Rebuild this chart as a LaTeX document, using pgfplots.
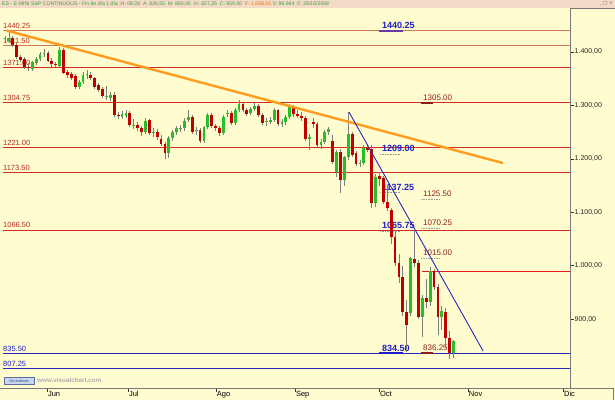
\documentclass[border=0pt]{standalone}
\usepackage{fontspec}
\setmainfont{Liberation Sans}
\newfontfamily\dejavu{DejaVu Sans}
\usepackage{pgfplots}
\usepackage{pgfplotstable}
\pgfplotsset{compat=1.18}
\definecolor{chartbg}{RGB}{255,253,208}
\definecolor{headerpink}{RGB}{242,218,198}
\definecolor{hgreen}{RGB}{60,160,60}
\definecolor{horange}{RGB}{235,110,20}
\definecolor{lvlA}{RGB}{210,120,95}
\definecolor{lvl}{RGB}{208,45,40}
\definecolor{lvltxt}{RGB}{180,42,36}
\definecolor{rtxt}{RGB}{140,30,30}
\definecolor{btxt}{RGB}{30,30,200}
\definecolor{bline}{RGB}{40,40,190}
\definecolor{orangeline}{RGB}{255,155,30}
\definecolor{cgreen}{RGB}{40,190,40}
\definecolor{cred}{RGB}{190,0,0}
\definecolor{wick}{RGB}{125,125,125}
\definecolor{framegray}{RGB}{120,120,120}
\definecolor{purp}{RGB}{100,60,170}
\definecolor{brightred}{RGB}{235,25,25}

\pgfplotstableread{
x o h l c
0 1424 1430 1419 1426
1 1420 1440.25 1416 1427
7 1368 1384 1365 1381
8 1380 1390 1376 1386
9 1386 1400 1383 1397
10 1396 1405 1390 1398
14 1373 1409 1370 1404
19 1335 1348 1330 1343
20 1343 1362 1340 1357
21 1356 1366 1350 1358
26 1316 1337 1310 1318
27 1314 1326 1309 1320
30 1279 1290 1275 1283
31 1281 1292 1277 1286
33 1262 1275 1255 1264
36 1250 1276 1246 1271
38 1249 1258 1240 1251
42 1211 1242 1202 1239
43 1239 1254 1234 1250
44 1250 1262 1245 1257
45 1256 1264 1250 1258
46 1257 1276 1253 1271
47 1273 1292 1268 1278
49 1252 1260 1244 1254
51 1233 1262 1230 1259
52 1259 1286 1255 1282
56 1248 1282 1245 1278
57 1283 1292 1278 1286
59 1267 1295 1264 1291
60 1291 1311 1288 1302
63 1285 1297 1282 1293
64 1293 1304 1290 1299
67 1268 1276 1262 1270
68 1269 1278 1265 1273
69 1272 1295 1268 1291
71 1266 1274 1260 1268
72 1268 1282 1264 1278
73 1278 1303 1275 1297
78 1237 1246 1216 1241
81 1226 1238 1218 1232
82 1232 1254 1228 1250
83 1250 1260 1244 1256
85 1175 1216 1165 1213
87 1160 1206 1150 1203
88 1203 1288 1198 1246
91 1190 1198 1184 1192
92 1192 1226 1188 1220
95 1117 1172 1110 1166
104 911 1016 905 1014
107 904 945 866 939
109 932 998 925 990
112 904 925 880 915
115 836.5 860 827.25 859.5
}\up

\pgfplotstableread{
x o h l c
2 1426 1430 1410 1413
3 1413 1416 1387 1390
4 1390 1395 1381 1385
5 1387 1390 1368 1372
6 1372 1380 1364 1370
11 1398 1401 1381 1384
12 1384 1388 1372 1377
13 1378 1382 1371 1376
15 1404 1407 1358 1361
16 1362 1366 1352 1357
17 1358 1362 1348 1352
18 1355 1358 1331 1335
22 1357 1362 1347 1351
23 1351 1354 1331 1335
24 1338 1342 1325 1329
25 1330 1335 1314 1318
28 1320 1325 1278 1282
29 1282 1288 1274 1280
32 1286 1290 1259 1263
34 1263 1268 1252 1257
35 1257 1262 1243 1250
37 1272 1275 1244 1248
39 1250 1255 1236 1241
40 1238 1244 1224 1228
41 1228 1232 1200 1211
48 1278 1282 1246 1250
50 1254 1258 1229 1233
53 1282 1286 1257 1261
54 1261 1266 1252 1257
55 1258 1262 1243 1248
58 1286 1290 1263 1267
61 1302 1306 1287 1291
62 1291 1295 1280 1284
65 1299 1302 1278 1282
66 1282 1286 1263 1267
70 1291 1294 1261 1265
74 1295 1300 1279 1283
75 1283 1292 1276 1281
76 1280 1288 1270 1277
77 1276 1280 1233 1237
79 1268 1276 1258 1265
80 1265 1268 1222 1226
84 1233 1245 1190 1194
86 1213 1218 1136 1160
89 1246 1250 1203 1207
90 1211 1214 1186 1190
93 1220 1228 1212 1217
94 1218 1225 1108 1117
96 1168 1176 1150 1162
97 1164 1168 1116 1120
98 1120 1150 1102 1108
99 1104 1108 1040 1054
100 1053 1062 1000 1005
101 1005 1022 968 979
102 979 1000 905 913
103 913 935 838 889
105 1012 1066 998 1005
106 1005 1010 900 904
108 939 975 920 932
110 990 994 955 960
111 960 966 870 904
113 913 920 845 864
114 864 878 825 836
}\down

\begin{document}
\begin{tikzpicture}
\useasboundingbox (0pt,0pt) rectangle (615pt,400pt);
\fill[chartbg] (0pt,0pt) rectangle (615pt,400pt);
\begin{axis}[
  at={(0pt,12pt)}, anchor=south west,
  scale only axis, width=570pt, height=380pt,
  xmin=-1.282, xmax=144.87, ymin=770.8, ymax=1482.4,
  axis x line=bottom, axis y line=right,
  axis line style={draw=framegray, line width=0.8pt, -},
  xtick={10.77,31.54,54.1,74.36,95.9,118.7,143.1},
  xticklabels={Jun,Jul,Ago,Sep,Oct,Nov,Dic},
  ytick={900,1000,1100,1200,1300,1400},
  yticklabels={{900,00},{1.000,00},{1.100,00},{1.200,00},{1.300,00},{1.400,00}},
  tick align=outside, major tick length=4pt,
  tick style={draw=black!80, line width=0.5pt},
  xticklabel style={anchor=north west, inner sep=0pt, xshift=0.8pt, yshift=1pt, font=\fontsize{7.5}{8}\selectfont},
  yticklabel style={anchor=west, inner sep=0pt, xshift=0.5pt, font=\fontsize{7}{8}\selectfont, text=black!85},
]
% level lines
\addplot[lvlA, line width=1pt, forget plot] coordinates {(-0.51,1440.25) (144.87,1440.25)};
\addplot[lvlA, line width=1pt, forget plot] coordinates {(-0.51,1411.5) (144.87,1411.5)};
\addplot[lvl, line width=1pt, forget plot] coordinates {(-0.51,1371) (144.87,1371)};
\addplot[lvl, line width=1pt, forget plot] coordinates {(-0.51,1304.75) (144.87,1304.75)};
\addplot[lvl, line width=1pt, forget plot] coordinates {(-0.51,1221) (144.87,1221)};
\addplot[lvl, line width=1pt, forget plot] coordinates {(-0.51,1173.5) (144.87,1173.5)};
\addplot[lvl, line width=1pt, forget plot] coordinates {(-0.51,1066.5) (144.87,1066.5)};
\addplot[brightred, line width=1pt, forget plot] coordinates {(106.9,989.5) (144.87,989.5)};
\addplot[bline, line width=1.1pt, forget plot] coordinates {(-0.51,835.5) (144.87,835.5)};
\addplot[bline, line width=1.1pt, forget plot] coordinates {(-0.51,807.25) (144.87,807.25)};
% order marks
\addplot[purp, line width=2pt, forget plot] coordinates {(95.9,1440.25) (102.05,1440.25)};
\addplot[btxt, line width=2pt, forget plot] coordinates {(95.9,835.5) (102.05,835.5)};
\addplot[rtxt, line width=2pt, forget plot] coordinates {(106.67,1304.75) (109.74,1304.75)};
\addplot[rtxt, line width=2pt, forget plot] coordinates {(106.67,835.5) (109.74,835.5)};
\addplot[black!40, densely dotted, line width=0.6pt, forget plot] coordinates {(96.2,1208) (101.3,1208)};
\addplot[black!40, densely dotted, line width=0.6pt, forget plot] coordinates {(96.2,1136.5) (101.3,1136.5)};
\addplot[black!40, densely dotted, line width=0.6pt, forget plot] coordinates {(96.2,1064.5) (101.3,1064.5)};
\addplot[black!40, densely dotted, line width=0.6pt, forget plot] coordinates {(106.7,1124.5) (111.5,1124.5)};
\addplot[black!40, densely dotted, line width=0.6pt, forget plot] coordinates {(106.7,1069.5) (111.5,1069.5)};
\addplot[black!40, densely dotted, line width=0.6pt, forget plot] coordinates {(106.7,1014) (111.5,1014)};
% labels
\begin{scope}[every node/.style={inner sep=0pt, anchor=south west, yshift=2pt}]
\node[text=lvltxt, font=\fontsize{7.5}{8}\selectfont] at (axis cs:-0.51,1440.25) {1440.25};
\node[text=lvltxt, font=\fontsize{7.5}{8}\selectfont] at (axis cs:-0.51,1411.5) {1411.50};
\node[text=lvltxt, font=\fontsize{7.5}{8}\selectfont] at (axis cs:-0.51,1371) {1371.00};
\node[text=lvltxt, font=\fontsize{7.5}{8}\selectfont] at (axis cs:-0.51,1304.75) {1304.75};
\node[text=lvltxt, font=\fontsize{7.5}{8}\selectfont] at (axis cs:-0.51,1221) {1221.00};
\node[text=lvltxt, font=\fontsize{7.5}{8}\selectfont] at (axis cs:-0.51,1173.5) {1173.50};
\node[text=lvltxt, font=\fontsize{7.5}{8}\selectfont] at (axis cs:-0.51,1066.5) {1066.50};
\node[text=btxt, font=\fontsize{7.5}{8}\selectfont] at (axis cs:-0.51,835.5) {835.50};
\node[text=btxt, font=\fontsize{7.5}{8}\selectfont] at (axis cs:-0.51,807.25) {807.25};
\node[text=btxt, font=\bfseries\fontsize{9}{10}\selectfont] at (axis cs:96.67,1440.25) {1440.25};
\node[text=btxt, font=\bfseries\fontsize{9}{10}\selectfont] at (axis cs:96.67,1209) {1209.00};
\node[text=btxt, font=\bfseries\fontsize{9}{10}\selectfont] at (axis cs:96.67,1137.25) {1137.25};
\node[text=btxt, font=\bfseries\fontsize{9}{10}\selectfont] at (axis cs:96.67,1065.75) {1065.75};
\node[text=btxt, font=\bfseries\fontsize{9}{10}\selectfont] at (axis cs:96.67,834.5) {834.50};
\node[text=rtxt, font=\fontsize{8}{9}\selectfont] at (axis cs:107.18,1305) {1305.00};
\node[text=rtxt, font=\fontsize{8}{9}\selectfont] at (axis cs:107.18,1125.5) {1125.50};
\node[text=rtxt, font=\fontsize{8}{9}\selectfont] at (axis cs:107.18,1070.25) {1070.25};
\node[text=rtxt, font=\fontsize{8}{9}\selectfont] at (axis cs:107.18,1015) {1015.00};
\node[text=rtxt, font=\fontsize{8}{9}\selectfont] at (axis cs:107.18,836.25) {836.25};
\end{scope}
% wicks
\addplot[draw=none, mark=none, forget plot, error bars/.cd, y dir=plus, y explicit, error mark=none,
  error bar style={draw=wick, line width=0.7pt}] table[x=x, y=l, y error expr=\thisrow{h}-\thisrow{l}] {\up};
\addplot[draw=none, mark=none, forget plot, error bars/.cd, y dir=plus, y explicit, error mark=none,
  error bar style={draw=wick, line width=0.7pt}] table[x=x, y=l, y error expr=\thisrow{h}-\thisrow{l}] {\down};
% bodies
\addplot[draw=none, mark=none, forget plot, error bars/.cd, y dir=plus, y explicit, error mark=none,
  error bar style={draw=cgreen, line width=2.8pt}] table[x=x, y=o, y error expr=\thisrow{c}-\thisrow{o}] {\up};
\addplot[draw=none, mark=none, forget plot, error bars/.cd, y dir=plus, y explicit, error mark=none,
  error bar style={draw=cred, line width=2.8pt}] table[x=x, y=c, y error expr=\thisrow{o}-\thisrow{c}] {\down};
% trend lines
\addplot[orangeline, line width=2.4pt, forget plot] coordinates {(0.5,1440) (127.7,1192)};
\addplot[bline, line width=0.9pt, forget plot] coordinates {(88.2,1287.6) (122.6,840)};
\end{axis}
% header
\fill[headerpink] (0pt,392pt) rectangle (615pt,400pt);
\node[anchor=west, inner sep=0pt, font=\fontsize{5.15}{6}\selectfont] at (2pt,396pt)
 {\color{hgreen}ES - E-MINI S\&P CONTINUOUS - Fin de día 1 día \ H: 08:28 \ A: 836,50 \ M: 860,00 \ m: 827,25 \ C: 859,50 \ \color{horange}F: 1.008,50\color{hgreen} \ V: 96.664 \ F: 28/10/2008};
\node[anchor=east, inner sep=0pt, text=black!60, font=\dejavu\fontsize{4.5}{5}\selectfont] at (613pt,396pt) {\_ □ ×};
% right box frame
\draw[framegray, line width=0.6pt] (570pt,392pt) -- (615pt,392pt);
\draw[framegray, line width=0.8pt] (570pt,12pt) -- (613pt,12pt);
\draw[framegray, line width=0.6pt] (613pt,0pt) -- (613pt,12pt);
% bottom-left
\draw[fill={rgb,255:red,200;green,214;blue,240}, draw={rgb,255:red,90;green,110;blue,160}, line width=0.4pt] (4pt,15.5pt) rectangle (34pt,23pt);
\node[inner sep=0pt, text={rgb,255:red,40;green,60;blue,130}, font=\fontsize{3.6}{4}\selectfont] at (19pt,19.3pt) {Sin órdenes};
\node[anchor=west, inner sep=0pt, text=black!32, font=\bfseries\fontsize{6.3}{7}\selectfont] at (37pt,19.5pt) {www.visualchart.com};
\end{tikzpicture}
\end{document}
